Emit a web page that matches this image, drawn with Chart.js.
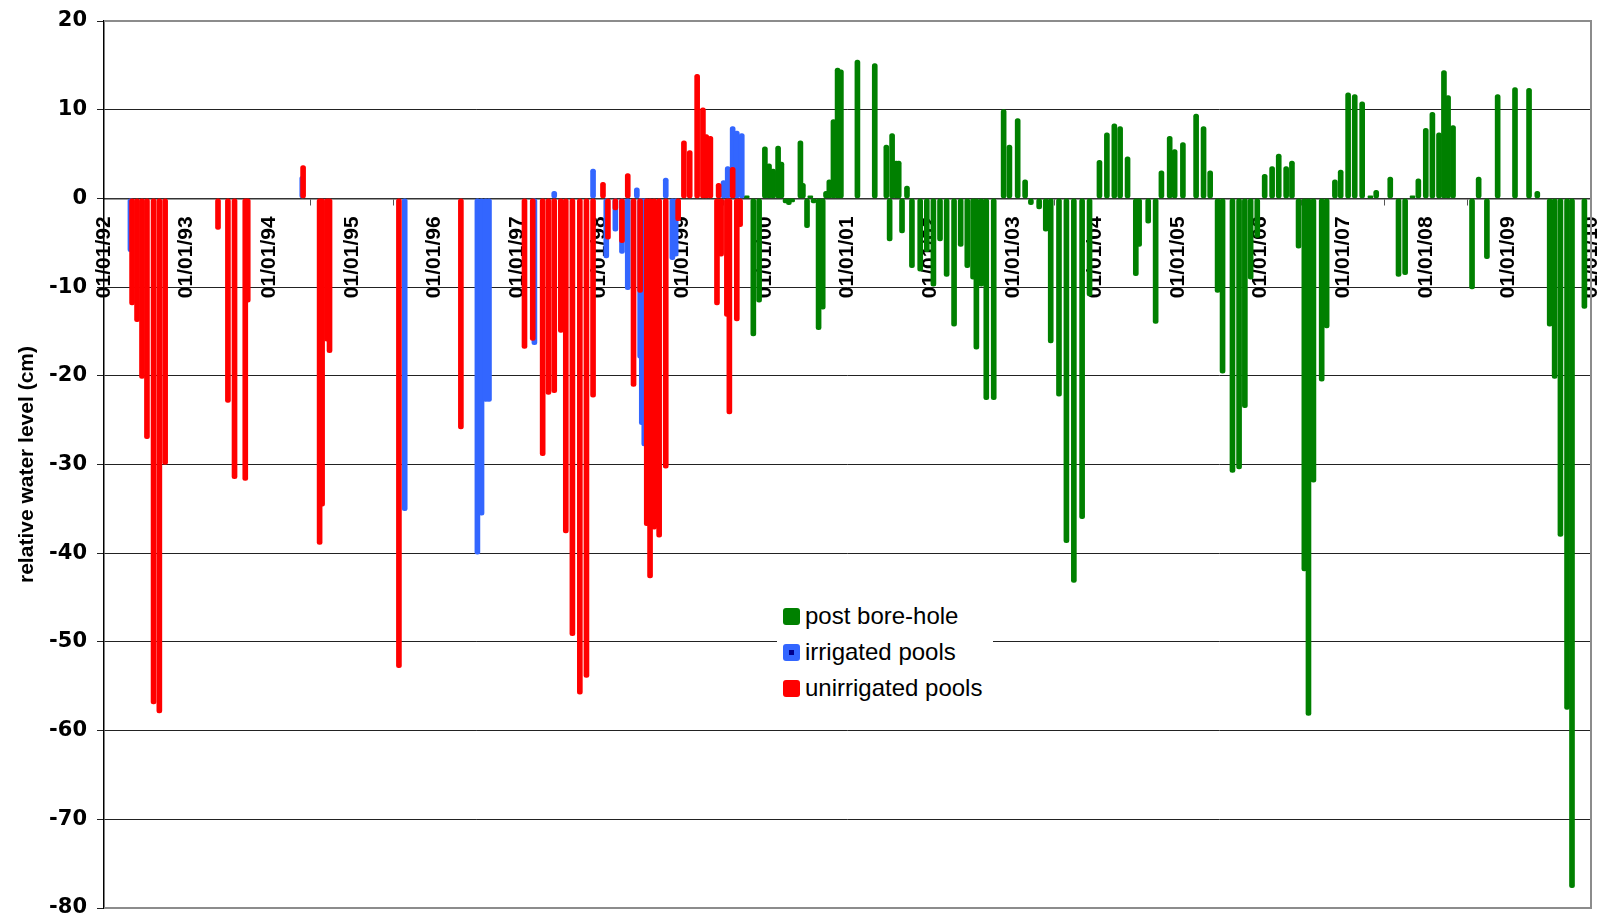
<!DOCTYPE html>
<html>
<head>
<meta charset="utf-8">
<script src="https://cdn.jsdelivr.net/npm/chart.js@4.4.1/dist/chart.umd.min.js"></script>
<style>
  html, body { margin: 0; padding: 0; background: #fff; }
  #wrap { position: relative; width: 1598px; height: 921px; }
  #legend {
    position: absolute; left: 777px; top: 598px; width: 210px;
    padding: 0 0 2px 6px; background: #fff;
    font-family: "Liberation Sans", Arial, sans-serif; font-size: 24px; color: #000;
  }
  .row { display: flex; align-items: center; height: 36px; }
  .sw { width: 17px; height: 17px; border-radius: 3px; margin-right: 5px; position: relative; flex: none; }
  .sw .dot { position: absolute; left: 6px; top: 6px; width: 5px; height: 5px; background: #00008b; }
</style>
</head>
<body>
<div id="wrap">
  <canvas id="chart"></canvas>
  <div id="legend"></div>
</div>
<script>
// Sampling dates as decimal years, water level in cm relative to reference.
const postBoreholeDates = [
  1999.78, 1999.86, 1999.93, 2000.00, 2000.05, 2000.10, 2000.16, 2000.20, 2000.25, 2000.29,
  2000.33, 2000.43, 2000.46, 2000.51, 2000.55, 2000.59, 2000.65, 2000.70, 2000.74, 2000.78,
  2000.83, 2000.88, 2000.92, 2001.12, 2001.33, 2001.47, 2001.51, 2001.54, 2001.59, 2001.62,
  2001.66, 2001.72, 2001.78, 2001.88, 2001.96, 2002.04, 2002.12, 2002.20, 2002.29, 2002.37,
  2002.45, 2002.52, 2002.56, 2002.62, 2002.68, 2002.77, 2002.89, 2002.96, 2003.06, 2003.15,
  2003.22, 2003.32, 2003.40, 2003.46, 2003.56, 2003.65, 2003.74, 2003.84, 2003.93, 2004.05,
  2004.14, 2004.23, 2004.30, 2004.39, 2004.49, 2004.53, 2004.64, 2004.73, 2004.80, 2004.90,
  2004.96, 2005.06, 2005.22, 2005.31, 2005.39, 2005.48, 2005.54, 2005.66, 2005.74, 2005.81,
  2005.88, 2005.96, 2006.05, 2006.14, 2006.22, 2006.31, 2006.38, 2006.46, 2006.53, 2006.58,
  2006.64, 2006.74, 2006.80, 2006.90, 2006.97, 2007.06, 2007.14, 2007.23, 2007.33, 2007.40,
  2007.57, 2007.67, 2007.75, 2007.84, 2007.91, 2008.00, 2008.08, 2008.16, 2008.22, 2008.27,
  2008.33, 2008.56, 2008.64, 2008.74, 2008.87, 2009.08, 2009.25, 2009.35, 2009.50, 2009.56,
  2009.63, 2009.71, 2009.77, 2009.92
];
const postBoreholeLevels = [
  0.3, -15.5, -11.7, 5.8, 3.9, 3.3, 5.9, 4.1, -0.5, -0.7,
  -0.4, 6.5, 1.7, -3.3, 0.3, -0.5, -14.8, -12.5, 0.8, 2.1,
  8.9, 14.7, 14.5, 15.6, 15.2, 6.0, -4.8, 7.3, 4.2, 4.2,
  -3.9, 1.4, -7.8, -8.2, -6.0, -9.9, -4.8, -8.8, -14.4, -5.4,
  -7.8, -9.1, -17.0, -9.9, -22.7, -22.7, 10.0, 6.0, 9.0, 2.1,
  -0.7, -1.2, -3.7, -16.3, -22.3, -38.8, -43.3, -36.1, -11.0, 4.3,
  7.4, 8.4, 8.1, 4.7, -8.7, -5.4, -2.8, -14.1, 3.1, 7.0,
  5.5, 6.3, 9.5, 8.1, 3.1, -10.6, -19.7, -30.9, -30.5, -23.6,
  -9.1, -4.4, 2.7, 3.6, 5.0, 3.6, 4.2, -5.6, -42.0, -58.3,
  -32.0, -20.6, -14.6, 2.1, 3.2, 11.9, 11.7, 10.9, 0.3, 0.9,
  2.4, -8.8, -8.6, 0.3, 2.2, 7.9, 9.7, 7.4, 14.4, 11.6,
  8.2, -10.2, 2.4, -6.8, 11.7, 12.5, 12.4, 0.8, -14.4, -20.3,
  -38.1, -57.6, -77.7, -12.4
];

const irrigatedDates = [
  1992.32, 1994.40, 1995.64, 1996.52, 1996.57, 1996.62, 1996.66, 1997.21, 1997.45, 1997.92,
  1998.08, 1998.19, 1998.27, 1998.34, 1998.45, 1998.49, 1998.51, 1998.54, 1998.80, 1998.88,
  1998.92, 1999.50, 1999.55, 1999.61, 1999.66, 1999.72
];
const irrigatedLevels = [
  -6.0, 2.5, -35.2, -40.1, -35.7, -22.9, -22.9, -16.5, 0.8, 3.3,
  -6.7, -3.7, -6.2, -10.3, 1.2, -18.0, -25.5, -27.9, 2.3, -6.9,
  -6.5, 2.0, 3.6, 8.1, 7.6, 7.3
];

const unirrigatedDates = [
  1992.34, 1992.40, 1992.46, 1992.52, 1992.60, 1992.67, 1992.74, 1993.38, 1993.50, 1993.58,
  1993.71, 1993.74, 1994.41, 1994.61, 1994.64, 1994.70, 1994.73, 1995.57, 1996.32, 1997.09,
  1997.19, 1997.31, 1997.38, 1997.45, 1997.53, 1997.59, 1997.67, 1997.76, 1997.84, 1997.92,
  1998.04, 1998.10, 1998.19, 1998.27, 1998.34, 1998.41, 1998.49, 1998.57, 1998.61, 1998.66,
  1998.72, 1998.80, 1998.95, 1999.02, 1999.09, 1999.18, 1999.25, 1999.29, 1999.34, 1999.42,
  1999.44, 1999.47, 1999.54, 1999.57, 1999.61, 1999.66, 1999.70
];
const unirrigatedLevels = [
  -12.0, -13.9, -20.3, -27.1, -57.0, -58.0, -30.0, -3.5, -23.0, -31.6,
  -31.8, -11.7, 3.7, -39.0, -34.7, -16.1, -17.4, -52.9, -26.0, -16.9,
  -16.0, -29.0, -22.1, -21.9, -15.1, -37.7, -49.3, -55.9, -54.0, -22.4,
  1.8, -4.6, -1.3, -5.0, 2.8, -21.2, -10.6, -36.9, -42.8, -37.3,
  -38.2, -30.4, -2.5, 6.5, 5.4, 14.0, 10.2, 7.2, 7.0, -12.0,
  1.7, -6.5, -13.3, -24.3, 3.5, -13.8, -3.2
];

const seriesNames = ['post bore-hole', 'irrigated pools', 'unirrigated pools'];
const seriesColors = ['#008000', '#3366ff', '#ff0000'];

const yTickValues = [20, 10, 0, -10, -20, -30, -40, -50, -60, -70, -80];
const yearFirst = 1992;
const yearLast = 2010;

function toBars(dates, levels) {
  return dates.map((t, i) => ({ x: t, y: [0, levels[i]] }));
}

const seriesData = [
  toBars(postBoreholeDates, postBoreholeLevels),
  toBars(irrigatedDates, irrigatedLevels),
  toBars(unirrigatedDates, unirrigatedLevels)
];
// unirrigated drawn on top, then irrigated, then post bore-hole
const drawOrder = [2, 1, 0];

const datasets = seriesNames.map((name, i) => ({
  label: name,
  data: seriesData[i],
  backgroundColor: seriesColors[i],
  borderWidth: 0,
  barThickness: 5,
  borderRadius: 2.5,
  borderSkipped: false,
  grouped: false,
  order: drawOrder[i]
}));

// gray frame on the top, right and bottom of the plot area
const plotFrame = {
  id: 'plotFrame',
  beforeDatasetsDraw(chart) {
    const { ctx, chartArea: a } = chart;
    ctx.save();
    ctx.strokeStyle = '#8c8c8c';
    ctx.lineWidth = 2;
    ctx.beginPath();
    ctx.moveTo(a.left, a.top);
    ctx.lineTo(a.right, a.top);
    ctx.lineTo(a.right, a.bottom);
    ctx.lineTo(a.left, a.bottom);
    ctx.stroke();
    ctx.restore();
  }
};

const chart = new Chart(document.getElementById('chart'), {
  type: 'bar',
  data: { datasets },
  plugins: [plotFrame],
  options: {
    responsive: true,
    maintainAspectRatio: false,
    animation: false,
    layout: { padding: { top: 21, right: 7, bottom: 13, left: 0 } },
    plugins: { legend: { display: false }, tooltip: { enabled: false } },
    scales: {
      x: {
        type: 'linear',
        min: yearFirst,
        max: yearLast,
        offset: false,
        position: { y: 0 },
        z: 1,
        afterFit(scale) {
          // the date axis sits inside the plot; its labels must not shrink the plot
          scale.paddingLeft = 0; scale.paddingRight = 0;
          scale.paddingTop = 0; scale.paddingBottom = 0;
        },
        ticks: {
          stepSize: 1,
          autoSkip: false,
          minRotation: 90,
          maxRotation: 90,
          padding: 12,
          color: '#000',
          font: { family: '"Liberation Sans", Arial, sans-serif', size: 21, weight: 'bold' },
          callback: (v) => '01/01/' + String(v % 100).padStart(2, '0')
        },
        grid: { drawOnChartArea: false, drawTicks: true, tickLength: 6, tickColor: '#555', tickWidth: 1 },
        border: { display: true, color: '#333', width: 1.5 }
      },
      y: {
        type: 'linear',
        min: -80,
        max: 20,
        afterBuildTicks(scale) { scale.ticks = yTickValues.map(v => ({ value: v })); },
        afterFit(scale) {
          scale.width = 104;
          scale.paddingTop = 0; scale.paddingBottom = 0;
        },
        ticks: {
          padding: 10,
          color: '#000',
          font: { family: '"DejaVu Sans", sans-serif', size: 21, weight: 'bold' }
        },
        grid: {
          color: (c) => (c.tick && (c.tick.value === 20 || c.tick.value === -80)) ? '#8c8c8c' : '#222',
          lineWidth: 1,
          tickLength: 7,
          tickColor: '#222'
        },
        border: { display: true, color: '#000', width: 1.5 },
        title: {
          display: true,
          text: 'relative water level (cm)',
          color: '#000',
          padding: { top: 15, bottom: 0 },
          font: { family: '"Liberation Sans", Arial, sans-serif', size: 21, weight: 'bold' }
        }
      }
    }
  }
});

// settle the plot rectangle: top 21, bottom 908, right 1591
(function fitPlotArea() {
  const ca = chart.chartArea;
  const pad = chart.options.layout.padding;
  pad.top = Math.max(0, pad.top + (21 - ca.top));
  pad.bottom = Math.max(0, pad.bottom + (ca.bottom - 908));
  pad.right = Math.max(0, pad.right + (ca.right - 1591));
  chart.update();
})();

// legend entries built from the series definitions
const legend = document.getElementById('legend');
seriesNames.forEach((name, i) => {
  const row = document.createElement('div');
  row.className = 'row';
  const sw = document.createElement('span');
  sw.className = 'sw';
  sw.style.background = seriesColors[i];
  if (i === 1) {
    const dot = document.createElement('span');
    dot.className = 'dot';
    sw.appendChild(dot);
  }
  const txt = document.createElement('span');
  txt.textContent = name;
  row.appendChild(sw);
  row.appendChild(txt);
  legend.appendChild(row);
});
</script>
</body>
</html>
